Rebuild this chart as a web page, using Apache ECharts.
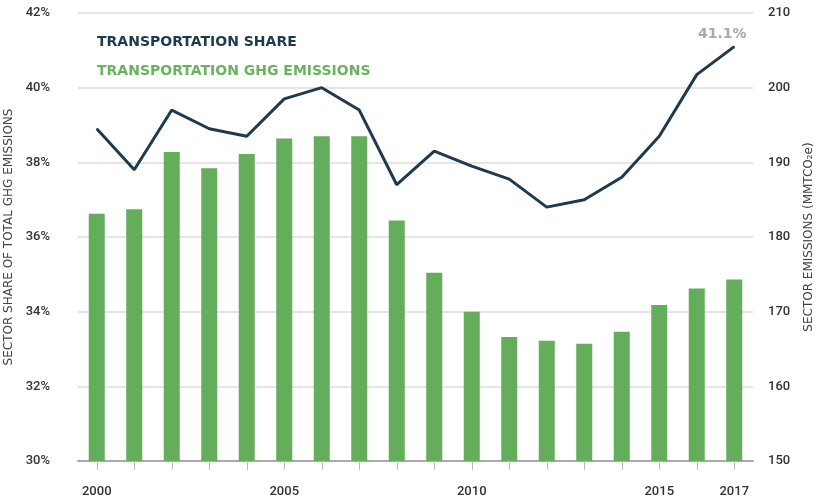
<!DOCTYPE html>
<html>
<head>
<meta charset="utf-8">
<script src="https://cdn.jsdelivr.net/npm/echarts@6/dist/echarts.min.js"></script>
<style>
  html, body { margin: 0; padding: 0; background: #fff; }
  #chart { width: 820px; height: 502px; }
</style>
</head>
<body>
<div id="chart"></div>
<script>
let years = ['2000', '2001', '2002', '2003', '2004', '2005', '2006', '2007', '2008',
    '2009', '2010', '2011', '2012', '2013', '2014', '2015', '2016', '2017'];
let shownYears = ['2000', '2005', '2010', '2015', '2017'];

// sector share of total GHG emissions (%)
let shareValues = [38.9, 37.8, 39.4, 38.9, 38.7, 39.7, 40.0, 39.4, 37.4,
    38.3, 37.9, 37.55, 36.8, 37.0, 37.6, 38.7, 40.35, 41.1];

// transportation GHG emissions (MMTCO2e)
let emissionValues = [183.1, 183.7, 191.4, 189.2, 191.1, 193.2, 193.5, 193.5, 182.2,
    175.2, 170.0, 166.6, 166.1, 165.7, 167.3, 170.9, 173.1, 174.3];

let myChart = echarts.init(document.getElementById('chart'));
let navy = '#1d3b4c';
let green = '#63ad5b';
let font = 'Roboto';
let wideFont = 'DejaVu Sans';

let option = {
    backgroundColor: '#fff',
    animation: false,
    title: [
        {
            text: 'TRANSPORTATION SHARE',
            left: 92,
            top: 30,
            textStyle: {color: navy, fontSize: 14, fontWeight: 'bold', fontFamily: wideFont}
        },
        {
            text: 'TRANSPORTATION GHG EMISSIONS',
            left: 92,
            top: 59,
            textStyle: {color: '#6ab35e', fontSize: 14, fontWeight: 'bold', fontFamily: wideFont}
        }
    ],
    grid: {left: 78, right: 67, top: 13, bottom: 41, outerBoundsMode: 'none', containLabel: false},
    xAxis: {
        type: 'category',
        data: years,
        boundaryGap: true,
        axisLine: {lineStyle: {color: '#aaa', width: 2}},
        axisTick: {
            show: true,
            alignWithLabel: true,
            interval: 0,
            length: 9,
            lineStyle: {color: '#bbb', width: 1}
        },
        axisLabel: {
            interval: function (idx, val) {
                return shownYears.indexOf(val) >= 0;
            },
            margin: 24,
            color: '#333',
            fontSize: 13,
            fontWeight: 500,
            fontFamily: font
        }
    },
    yAxis: [
        {
            type: 'value',
            min: 30,
            max: 42,
            interval: 2,
            name: 'SECTOR SHARE OF TOTAL GHG EMISSIONS',
            nameLocation: 'middle',
            nameRotate: 90,
            nameGap: 51,
            nameTextStyle: {color: '#444', fontSize: 12, fontFamily: wideFont},
            axisLine: {show: false},
            axisTick: {show: false},
            axisLabel: {
                formatter: '{value}%',
                margin: 28,
                color: '#333',
                fontSize: 13,
                fontWeight: 500,
                fontFamily: font
            },
            splitLine: {lineStyle: {color: '#ddd', width: 1.5}}
        },
        {
            type: 'value',
            min: 150,
            max: 210,
            interval: 10,
            position: 'right',
            name: 'SECTOR EMISSIONS (MMTCO₂e)',
            nameLocation: 'middle',
            nameRotate: 90,
            nameGap: 50,
            nameTextStyle: {color: '#444', fontSize: 12, fontFamily: wideFont},
            axisLine: {show: false},
            axisTick: {show: false},
            axisLabel: {
                margin: 15,
                color: '#333',
                fontSize: 13,
                fontWeight: 500,
                fontFamily: font
            },
            splitLine: {show: false}
        }
    ],
    series: [
        {
            name: 'Transportation GHG Emissions',
            type: 'bar',
            yAxisIndex: 1,
            data: emissionValues,
            barWidth: 16,
            itemStyle: {color: green}
        },
        {
            name: 'Transportation Share',
            type: 'line',
            yAxisIndex: 0,
            data: shareValues,
            symbol: 'circle',
            symbolSize: 1,
            showSymbol: true,
            itemStyle: {color: navy},
            lineStyle: {color: navy, width: 3},
            label: {
                show: true,
                position: 'top',
                distance: 5,
                offset: [-12, 0],
                color: '#a9a9a9',
                fontSize: 14,
                fontWeight: 'bold',
                fontFamily: wideFont,
                formatter: function (p) {
                    return p.dataIndex === shareValues.length - 1 ? p.value + '%' : '';
                }
            }
        }
    ]
};
myChart.setOption(option);
</script>
</body>
</html>
